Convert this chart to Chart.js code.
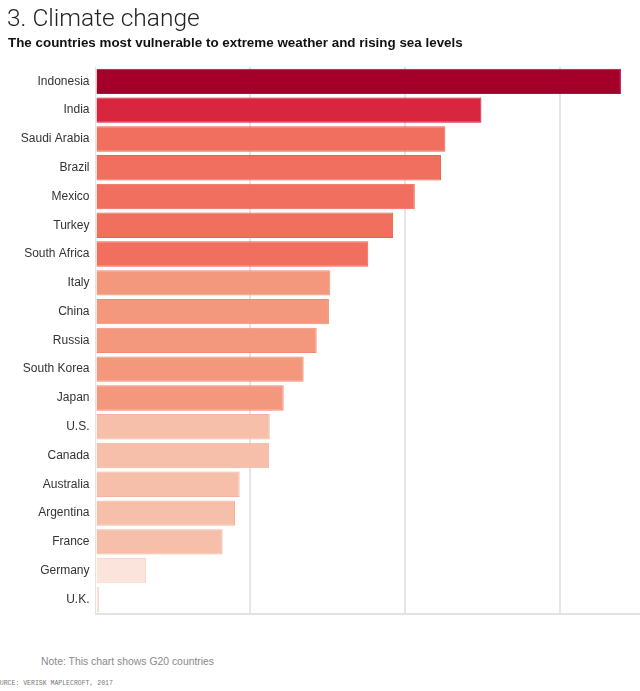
<!DOCTYPE html>
<html>
<head>
<meta charset="utf-8">
<script src="https://cdn.jsdelivr.net/npm/chart.js@4/dist/chart.umd.min.js"></script>
<style>
  html, body { margin: 0; padding: 0; background: #fff; width: 640px; height: 691px; overflow: hidden; position: relative; }
  #title { position: absolute; left: 7px; top: 3px; font: 300 24.5px Roboto, "Liberation Sans", sans-serif; color: #222; white-space: nowrap; }
  #subtitle { position: absolute; left: 8px; top: 35px; font: bold 13.4px "Liberation Sans", Arial, sans-serif; color: #111; white-space: nowrap; }
  #note { position: absolute; left: 41px; top: 656px; font: 10.4px "Liberation Sans", Arial, sans-serif; color: #8a8a8a; white-space: nowrap; }
  #source { position: absolute; left: -8px; top: 680px; font: 6.5px "Liberation Mono", "DejaVu Sans Mono", monospace; color: #777; white-space: nowrap; }
  #c { position: absolute; left: 0; top: 0; }
</style>
</head>
<body>
<canvas id="c" width="640" height="627" style="width:640px;height:627px"></canvas>
<div id="title">3. Climate change</div>
<div id="subtitle">The countries most vulnerable to extreme weather and rising sea levels</div>
<div id="note">Note: This chart shows G20 countries</div>
<div id="source">SOURCE: VERISK MAPLECROFT, 2017</div>
<script>
const countries = ["Indonesia","India","Saudi Arabia","Brazil","Mexico","Turkey","South Africa","Italy","China","Russia","South Korea","Japan","U.S.","Canada","Australia","Argentina","France","Germany","U.K."];
const vulnerability = [3.39,2.49,2.257,2.229,2.06,1.92,1.76,1.515,1.506,1.427,1.343,1.214,1.124,1.119,0.93,0.9,0.82,0.326,0.023];
const gridTicks = [1,2,3];
const fillColors = ["#a50029","#d7263e","#f06f5e","#f06f5e","#f06f5e","#f06f5e","#f06f5e","#f3977d","#f3977d","#f3977d","#f3977d","#f3977d","#f6bfaa","#f6bfaa","#f6bfaa","#f6bfaa","#f6bfaa","#fbe4db","#fbe4db"];
const borderColors = ["#b4103a","#d01a33","#ec6250","#ec6250","#ec6250","#ec6250","#ec6250","#f08a70","#f08a70","#f08a70","#f08a70","#f08a70","#f4b39c","#f4b39c","#f4b39c","#f4b39c","#f4b39c","#f8d8cc","#f8d8cc"];

new Chart(document.getElementById('c'), {
  type: 'bar',
  data: {
    labels: countries,
    datasets: [{
      data: vulnerability,
      backgroundColor: fillColors,
      borderColor: borderColors,
      borderWidth: 1,
      categoryPercentage: 0.9,
      barPercentage: 0.98
    }]
  },
  options: {
    indexAxis: 'y',
    responsive: false,
    maintainAspectRatio: false,
    devicePixelRatio: 1,
    animation: false,
    layout: { padding: { top: 67, right: 0, bottom: 9, left: 0 } },
    plugins: { legend: { display: false }, tooltip: { enabled: false } },
    scales: {
      x: {
        min: 0,
        max: 3.513,
        afterBuildTicks: (s) => { s.ticks = [0].concat(gridTicks).map(v => ({ value: v })); },
        afterFit: (s) => { s.height = 0; },
        ticks: { display: false },
        grid: {
          drawTicks: false,
          lineWidth: 2,
          color: (ctx) => (ctx.tick && ctx.tick.value > 0) ? '#e6e6e6' : 'rgba(0,0,0,0)'
        },
        border: { display: true, color: '#e3e3e3', width: 2 }
      },
      y: {
        afterFit: (s) => { s.width = 95.5; },
        ticks: {
          padding: 6,
          color: '#333',
          font: { family: '"Liberation Sans", Arial, sans-serif', size: 12 }
        },
        grid: { display: false, drawTicks: false },
        border: { display: true, color: '#e3e3e3', width: 1 }
      }
    }
  }
});
</script>
</body>
</html>
